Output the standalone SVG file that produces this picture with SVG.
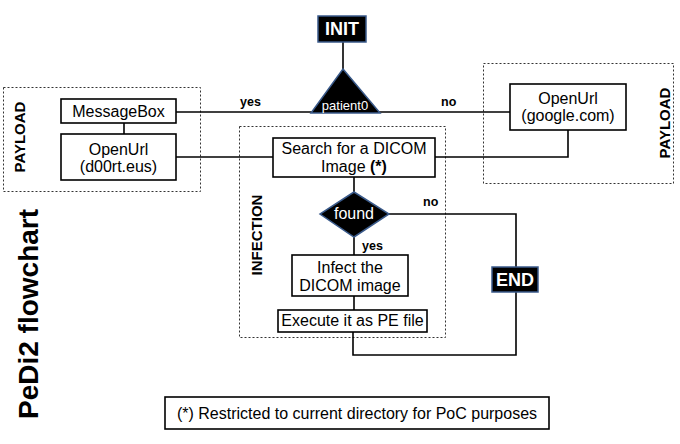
<svg xmlns="http://www.w3.org/2000/svg" width="680" height="444" viewBox="0 0 680 444">
<style>
text{font-family:"Liberation Sans",Arial,sans-serif;fill:#000}
.box{fill:#fff;stroke:#000;stroke-width:1.6}
.dash{fill:none;stroke:#333;stroke-width:1;stroke-dasharray:2,2}
.t{font-size:16px;text-anchor:middle}
.lbl{font-size:12.5px;font-weight:bold}
.term{fill:#000;stroke:#3a5a8a;stroke-width:1.5}
.wt{fill:#fff;text-anchor:middle}
.vl{font-weight:bold;text-anchor:middle}
#connectors path,#connectors line{fill:none;stroke:#000;stroke-width:1.6}
</style>
<rect width="680" height="444" fill="#fff"/>
<g id="groups">
<rect class="dash" x="3.5" y="87.5" width="197" height="104"/>
<text class="vl" font-size="15" transform="translate(25,137) rotate(-90)">PAYLOAD</text>
<rect class="dash" x="483.5" y="63.5" width="190" height="120"/>
<text class="vl" font-size="15" transform="translate(670,123) rotate(-90)">PAYLOAD</text>
<rect class="dash" x="239.5" y="126.5" width="206" height="211"/>
<text class="vl" font-size="15" transform="translate(262,235) rotate(-90)">INFECTION</text>
</g>
<g id="connectors">
<line x1="343" y1="42" x2="343" y2="70"/>
<line x1="176" y1="112" x2="510" y2="112"/>
<line x1="124" y1="123" x2="124" y2="134"/>
<line x1="176" y1="157" x2="273" y2="157"/>
<path d="M435 157 H568 V130"/>
<line x1="354" y1="177" x2="354" y2="193"/>
<path d="M389 214 H516 V355 H353 V332"/>
<line x1="354" y1="237" x2="354" y2="255"/>
<line x1="354" y1="296" x2="354" y2="310"/>
<text class="lbl" x="240" y="106">yes</text>
<text class="lbl" x="441" y="106">no</text>
<text class="lbl" x="423" y="206">no</text>
<text class="lbl" x="362" y="250">yes</text>
</g>
<g id="init">
<rect class="term" x="318" y="16" width="48" height="26"/>
<text class="wt" x="342" y="35" font-size="18" font-weight="bold">INIT</text>
</g>
<g id="patient0">
<polygon class="term" points="343,69 380,113 311,113"/>
<text class="wt" x="345" y="110" font-size="13">patient0</text>
</g>
<g id="messagebox">
<rect class="box" x="61" y="99" width="115" height="24"/>
<text class="t" x="118.5" y="117">MessageBox</text>
</g>
<g id="openurl-d00rt">
<rect class="box" x="61" y="134" width="115" height="46"/>
<text class="t" x="118.5" y="155">OpenUrl</text>
<text class="t" x="118.5" y="172">(d00rt.eus)</text>
</g>
<g id="openurl-google">
<rect class="box" x="510" y="84" width="116" height="46"/>
<text class="t" x="568" y="103.5">OpenUrl</text>
<text class="t" x="568" y="121">(google.com)</text>
</g>
<g id="search">
<rect class="box" x="273" y="138" width="162" height="39"/>
<text class="t" x="354" y="153.5">Search for a DICOM</text>
<text class="t" x="354" y="171.5">Image <tspan font-weight="bold">(*)</tspan></text>
</g>
<g id="found">
<polygon class="term" points="354,192 389,214 354,237 320,214"/>
<text class="wt" x="354" y="219" font-size="16">found</text>
</g>
<g id="infect">
<rect class="box" x="292" y="255" width="116" height="41"/>
<text class="t" x="350" y="272.5">Infect the</text>
<text class="t" x="350" y="290.5">DICOM image</text>
</g>
<g id="execute">
<rect class="box" x="278" y="310" width="149" height="22"/>
<text class="t" x="352.5" y="326">Execute it as PE file</text>
</g>
<g id="end">
<rect class="term" x="492" y="267" width="46" height="25"/>
<text class="wt" x="515" y="286" font-size="18" font-weight="bold">END</text>
</g>
<g id="note">
<rect class="box" x="165" y="397" width="384" height="32" stroke-width="1.2"/>
<text class="t" x="357" y="419">(*) Restricted to current directory for PoC purposes</text>
</g>
<g id="title">
<text class="vl" font-size="28" transform="translate(38,314) rotate(-90)">PeDi2 flowchart</text>
</g>
</svg>
